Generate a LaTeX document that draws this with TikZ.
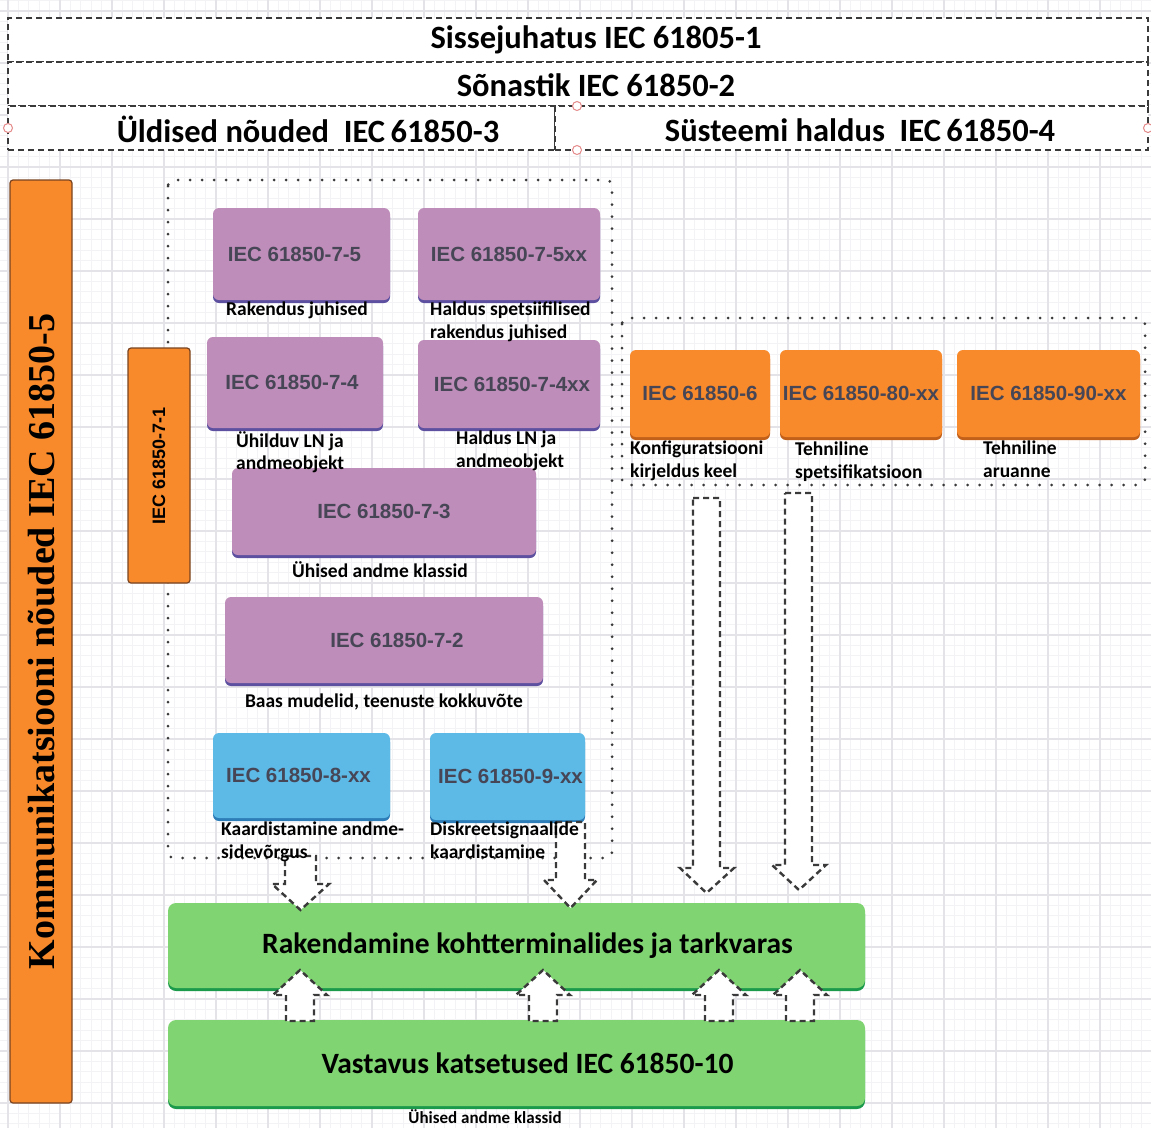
\documentclass[tikz,border=0pt]{standalone}
\usepackage{fontspec}
\setmainfont{Carlito}
\newfontfamily\arialf{Liberation Sans}
\newfontfamily\timesf{Liberation Serif}
\usetikzlibrary{shadows}
\definecolor{gridminor}{HTML}{F3F3F5}
\definecolor{gridmajor}{HTML}{E4E4E8}
\definecolor{dashgrey}{HTML}{3A3A3A}
\definecolor{orfill}{HTML}{F88A2C}
\definecolor{oredge}{HTML}{C2601A}
\definecolor{orline}{HTML}{7A4420}
\definecolor{pufill}{HTML}{BF8DB9}
\definecolor{puedge}{HTML}{5E50A0}
\definecolor{blfill}{HTML}{5DB9E6}
\definecolor{bledge}{HTML}{2D7DB8}
\definecolor{grfill}{HTML}{80D572}
\definecolor{gredge}{HTML}{1C9A4C}
\definecolor{boxtext}{HTML}{464656}
\definecolor{handle}{HTML}{E58A8A}
\tikzset{
  hdrcell/.style={draw=dashgrey, line width=2.2pt, dash pattern=on 6pt off 4pt, fill=white, inner sep=0pt},
  hdrtext/.style={font=\bfseries\fontsize{32.5}{36}\selectfont, inner sep=0pt},
  dotframe/.style={draw=dashgrey, line width=3pt, line cap=round, dash pattern=on 0pt off 12pt, rounded corners=6pt},
  stdbox/.style={rounded corners=6pt, inner sep=0pt, text=boxtext, font=\arialf\bfseries\fontsize{20.5}{23}\selectfont},
  purplebox/.style={stdbox, fill=pufill, general shadow={fill=puedge, shadow yshift=-3pt}},
  bluebox/.style={stdbox, fill=blfill, general shadow={fill=bledge, shadow yshift=-3pt}},
  orangebox/.style={stdbox, fill=orfill, general shadow={fill=oredge, shadow yshift=-3pt}},
  greenbox/.style={rounded corners=8pt, inner sep=0pt, fill=grfill, general shadow={fill=gredge, shadow yshift=-3pt}, font=\bfseries\fontsize{29.5}{33}\selectfont, text=black},
  barbox/.style={draw=orline, line width=1.2pt, fill=orfill, rounded corners=3pt, inner sep=0pt},
  caption/.style={font=\bfseries\fontsize{19.5}{22.5}\selectfont, inner sep=0pt, align=left, text=black},
  blockarrow/.style={draw=dashgrey, fill=white, line width=2.4pt, dash pattern=on 6pt off 4pt, line join=miter},
  handlemark/.style={circle, draw=handle, fill=white, line width=1pt, minimum size=9pt, inner sep=0pt}
}
\begin{document}
\begin{tikzpicture}[x=1pt,y=-1pt]
\useasboundingbox (0,0) rectangle (1151,1128);
\fill[white] (0,0) rectangle (1151,1128);
% background grid
\foreach \k in {0,...,111} {
  \draw[gridminor, line width=0.7pt] ({-2.4+10.4*\k},0) -- ({-2.4+10.4*\k},1128);
  \draw[gridminor, line width=0.7pt] (0,{0.6+10.4*\k}) -- (1151,{0.6+10.4*\k});
}
\foreach \k in {0,...,22} {
  \draw[gridmajor, line width=1.1pt] ({8+52*\k},0) -- ({8+52*\k},1128);
  \draw[gridmajor, line width=1.1pt] (0,{11+52*\k}) -- (1151,{11+52*\k});
}

% header rows
\node[hdrcell, minimum width=1140pt, minimum height=44pt] (intro) at (578,40) {};
\node[hdrcell, minimum width=1140pt, minimum height=44pt] (vocab) at (578,84) {};
\node[hdrcell, minimum width=547pt, minimum height=44pt] (general) at (281.5,128) {};
\node[hdrcell, minimum width=593pt, minimum height=44pt] (sysmgmt) at (851.5,128) {};
\node[hdrtext] (introtext) at (596,40) {Sissejuhatus IEC 61805-1};
\node[hdrtext] (vocabtext) at (596,85) {Sõnastik IEC 61850-2};
\node[hdrtext] (generaltext) at (308,129) {Üldised nõuded\ \ IEC\,61850-3};
\node[hdrtext] (sysmgmttext) at (860,130) {Süsteemi haldus\ \ IEC\,61850-4};
\node[handlemark] (h1) at (8,128) {};
\node[handlemark] (h2) at (577,106) {};
\node[handlemark] (h3) at (577,150) {};
\node[handlemark] (h4) at (1148,128) {};

% dotted group frames
\draw[dotframe] (168,180) rectangle (612,858);
\draw[dotframe] (622,318) rectangle (1145,485);

% vertical bars
\node[barbox, minimum width=62pt, minimum height=923pt] (commreq) at (41,641.5) {};
\node[rotate=90, font=\timesf\bfseries\fontsize{38}{40}\selectfont, inner sep=0pt] (commreqtext) at (commreq.center) {Kommunikatsiooni nõuded IEC 61850-5};
\node[barbox, minimum width=62pt, minimum height=235pt] (p71) at (159,465.5) {};
\node[rotate=90, font=\arialf\bfseries\fontsize{18}{20}\selectfont, inner sep=0pt] (p71text) at (p71.center) {IEC 61850-7-1};

% modelling parts
\node[purplebox, minimum width=177pt, minimum height=92pt] (p75) at (301.5,254) {IEC 61850-7-5\hspace*{14pt}};
\node[purplebox, minimum width=182pt, minimum height=92pt] (p75xx) at (509,254) {IEC 61850-7-5xx};
\node[purplebox, minimum width=176pt, minimum height=91pt] (p74) at (295,382.5) {IEC 61850-7-4\hspace*{6pt}};
\node[purplebox, minimum width=182pt, minimum height=88pt] (p74xx) at (509,384) {\hspace*{6pt}IEC 61850-7-4xx};
\node[purplebox, minimum width=304pt, minimum height=87pt] (p73) at (384,511.5) {IEC 61850-7-3};
\node[purplebox, minimum width=318pt, minimum height=86pt] (p72) at (384,640) {\hspace*{26pt}IEC 61850-7-2};
\node[bluebox, minimum width=177pt, minimum height=85pt] (p8) at (301.5,775.5) {IEC 61850-8-xx\hspace*{6pt}};
\node[bluebox, minimum width=155pt, minimum height=87pt] (p9) at (507.5,776.5) {\hspace*{6pt}IEC 61850-9-xx};

% configuration and technical documents
\node[orangebox, minimum width=140pt, minimum height=87pt] (p6) at (700,393.5) {IEC 61850-6};
\node[orangebox, minimum width=162pt, minimum height=87pt] (p80) at (861,393.5) {IEC 61850-80-xx};
\node[orangebox, minimum width=183pt, minimum height=87pt] (p90) at (1048.5,393.5) {IEC 61850-90-xx};

% implementation and testing
\node[greenbox, minimum width=697pt, minimum height=85pt] (impl) at (516.5,945.5) {\hspace*{22pt}Rakendamine kohtterminalides ja tarkvaras};
\node[greenbox, minimum width=697pt, minimum height=86pt] (conf) at (516.5,1063) {\hspace*{22pt}Vastavus katsetused IEC 61850-10};

% block arrows down into the implementation layer
\draw[blockarrow] (693,498) -- (720,498) -- (720,868) -- (734,868) -- (706.5,893) -- (680,868) -- (693,868) -- cycle;
\draw[blockarrow] (785,493) -- (812,493) -- (812,865) -- (826,865) -- (799,890) -- (772,865) -- (785,865) -- cycle;
\draw[blockarrow] (285,856) -- (316,856) -- (316,884) -- (329,884) -- (300.5,910) -- (272,884) -- (285,884) -- cycle;
\draw[blockarrow] (556,822) -- (585,822) -- (585,880) -- (597,880) -- (570.5,908) -- (544,880) -- (556,880) -- cycle;

% block arrows up from conformance testing
\foreach \cx/\nm in {300/ua, 543/ub, 719/uc, 800/ud} {
  \draw[blockarrow] ({\cx-14},1021) -- ({\cx-14},995) -- ({\cx-27},995) -- (\cx,970) -- ({\cx+27},995) -- ({\cx+14},995) -- ({\cx+14},1021) -- cycle;
}

% captions
\node[caption, anchor=north] (c75) at (297,302) {Rakendus juhised};
\node[caption, anchor=north west] (c75xx) at (430,302) {Haldus spetsiifilised\\rakendus juhised};
\node[caption, anchor=north west] (c74) at (236,431) {Ühilduv LN ja\\andmeobjekt};
\node[caption, anchor=north west] (c74xx) at (456,431) {Haldus LN ja\\andmeobjekt};
\node[caption, anchor=north] (c73) at (380,561) {Ühised andme klassid};
\node[caption, anchor=north] (c72) at (384,694) {Baas mudelid, teenuste kokkuvõte};
\node[caption, anchor=north west] (c8) at (221,822) {Kaardistamine andme-\\sidevõrgus};
\node[caption, anchor=north west] (c9) at (430,822) {Diskreetsignaalide\\kaardistamine};
\node[caption, anchor=north west] (c6) at (630,441) {Konfiguratsiooni\\kirjeldus keel};
\node[caption, anchor=north west] (c80) at (795,442) {Tehniline\\spetsifikatsioon};
\node[caption, anchor=north west] (c90) at (983,441) {Tehniline\\aruanne};
\node[caption, anchor=south, font=\bfseries\fontsize{17}{19}\selectfont] (cconf) at (485,1124) {Ühised andme klassid};
\end{tikzpicture}
\end{document}
